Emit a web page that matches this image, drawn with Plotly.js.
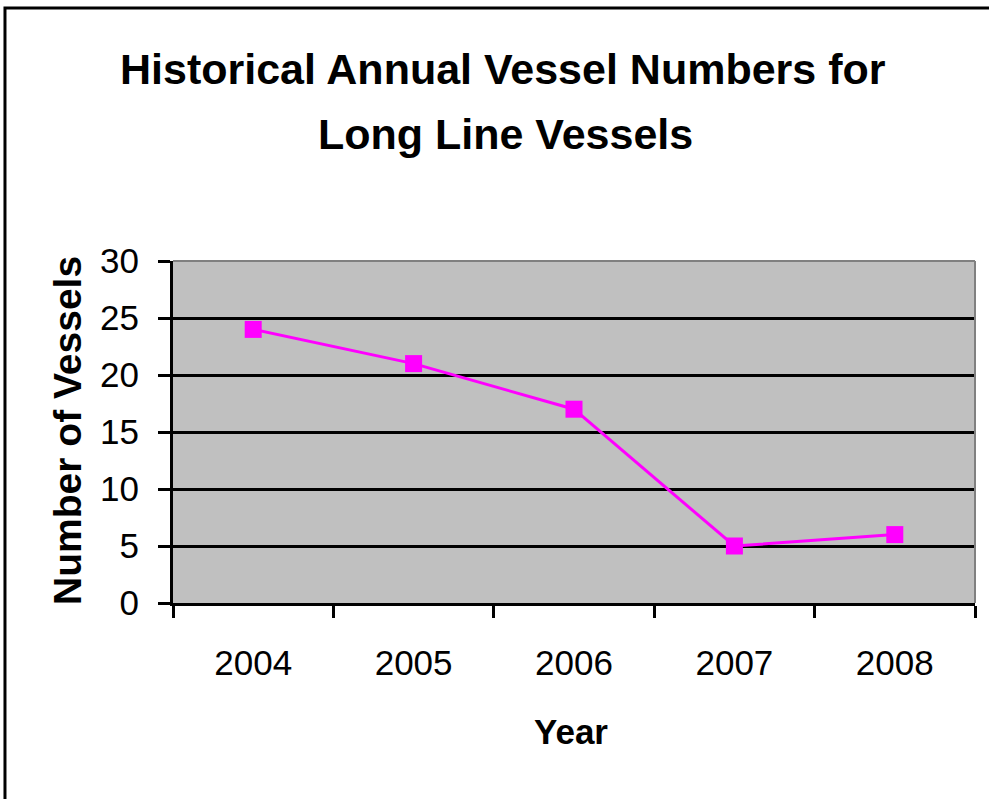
<!DOCTYPE html>
<html>
<head>
<meta charset="utf-8">
<script src="https://cdn.plot.ly/plotly-3.0.1.min.js"></script>
<style>
html,body{margin:0;padding:0;background:#fff;}
#chart{width:989px;height:799px;}
</style>
</head>
<body>
<div id="chart"></div>
<script>
var years = ['2004', '2005', '2006', '2007', '2008'];
var vessels = [24, 21, 17, 5, 6];
var yTicks = [0, 5, 10, 15, 20, 25, 30];
var gridTicks = [5, 10, 15, 20, 25];
var titleLines = ['Historical Annual Vessel Numbers for', 'Long Line Vessels'];
var xTitle = 'Year';
var yTitle = 'Number of Vessels';

var FONT = 'Arial, "Liberation Sans", sans-serif';

var trace = {
  x: years,
  y: vessels,
  type: 'scatter',
  mode: 'lines+markers',
  line: {color: '#FF00FF', width: 3},
  marker: {symbol: 'square', size: 17, color: '#FF00FF'},
  hoverinfo: 'x+y'
};
var gridTrace = {
  x: [years[0]], y: [null], yaxis: 'y2', type: 'scatter', mode: 'markers',
  showlegend: false, hoverinfo: 'skip'
};

var layout = {
  width: 989, height: 799,
  margin: {l: 173, r: 14, t: 261, b: 196},
  paper_bgcolor: '#FFFFFF',
  plot_bgcolor: '#C0C0C0',
  showlegend: false,
  font: {family: FONT, color: '#000'},
  xaxis: {
    type: 'category',
    range: [-0.5, 4.5],
    tickson: 'boundaries',
    ticks: 'outside', ticklen: 12, tickwidth: 3, tickcolor: '#000',
    showline: true, linecolor: '#000', linewidth: 3,
    showgrid: false, zeroline: false,
    tickfont: {family: FONT, size: 35, color: '#000'},
    ticklabelstandoff: 27,
    fixedrange: true
  },
  yaxis: {
    range: [0, 30],
    tickvals: yTicks,
    ticktext: yTicks.map(String),
    ticks: 'outside', ticklen: 12, tickwidth: 3, tickcolor: '#000',
    showline: true, linecolor: '#000', linewidth: 3,
    showgrid: false, zeroline: false,
    tickfont: {family: FONT, size: 35, color: '#000'},
    ticklabelstandoff: 12,
    fixedrange: true
  },
  yaxis2: {
    overlaying: 'y',
    range: [0, 30],
    tickvals: gridTicks,
    showticklabels: false,
    ticks: '',
    showgrid: true, gridcolor: '#000', gridwidth: 3,
    zeroline: false, showline: false,
    fixedrange: true
  },
  annotations: [
    {text: titleLines[0], xref: 'paper', yref: 'paper', x: 0.4115, y: 1.5614,
     xanchor: 'center', yanchor: 'middle', showarrow: false,
     font: {family: FONT, size: 43, color: '#000', weight: 'bold'}},
    {text: titleLines[1], xref: 'paper', yref: 'paper', x: 0.414, y: 1.371,
     xanchor: 'center', yanchor: 'middle', showarrow: false,
     font: {family: FONT, size: 43, color: '#000', weight: 'bold'}},
    {text: xTitle, xref: 'paper', yref: 'paper', x: 0.496, y: -0.377,
     xanchor: 'center', yanchor: 'middle', showarrow: false,
     font: {family: FONT, size: 35, color: '#000', weight: 'bold'}},
    {text: yTitle, xref: 'paper', yref: 'paper', x: -0.131, y: 0.506,
     xanchor: 'center', yanchor: 'middle', showarrow: false, textangle: -90,
     font: {family: FONT, size: 39, color: '#000', weight: 'bold'}}
  ],
  shapes: [
    {type: 'line', xref: 'paper', yref: 'paper', x0: 0, x1: 1, y0: 1, y1: 1,
     line: {color: '#808080', width: 2}, layer: 'above'},
    {type: 'line', xref: 'paper', yref: 'paper', x0: 1, x1: 1, y0: 0, y1: 1,
     line: {color: '#808080', width: 2}, layer: 'above'},
    {type: 'rect', xref: 'paper', yref: 'paper', x0: -0.2095, x1: 1.05, y0: -0.65, y1: 1.7398,
     line: {color: '#000', width: 3}, fillcolor: 'rgba(0,0,0,0)', layer: 'below'}
  ]
};

Plotly.newPlot('chart', [trace, gridTrace], layout, {displayModeBar: false, staticPlot: true});
</script>
</body>
</html>
